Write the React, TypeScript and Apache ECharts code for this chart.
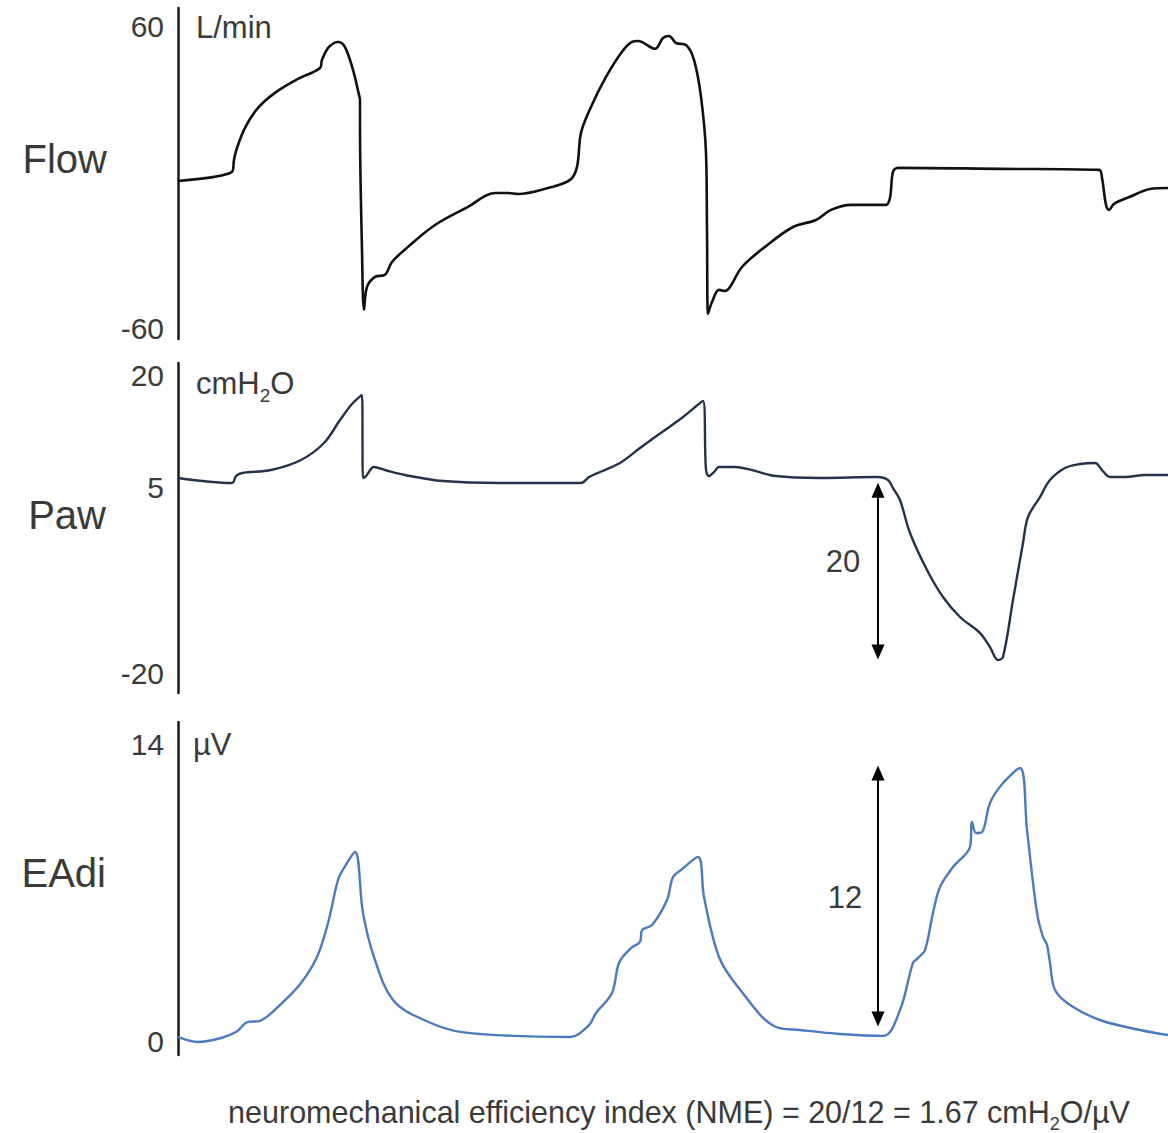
import React, { useEffect, useRef } from "react";
import * as echarts from "echarts";

// ---- Flow (L/min) ----
const flowTime = [0, 0.54, 0.56, 0.59, 0.67, 0.8, 0.97, 1.2, 1.42, 1.44, 1.5, 1.56, 1.6, 1.67, 1.75, 1.81, 1.82, 1.82, 1.84, 1.86, 1.89, 1.97, 2.07, 2.14, 2.3, 2.57, 2.9, 3.17, 3.3, 3.4, 3.7, 3.92, 3.99, 4.03, 4.13, 4.28, 4.44, 4.54, 4.6, 4.77, 4.85, 4.91, 4.98, 5.08, 5.16, 5.23, 5.28, 5.29, 5.3, 5.34, 5.41, 5.47, 5.52, 5.64, 5.87, 6.15, 6.38, 6.53, 6.73, 7.08, 7.12, 7.15, 7.2, 8.22, 9.21, 9.24, 9.28, 9.31, 9.36, 9.52, 9.72, 9.9];
const flowValues = [-1.2, 2.4, 7.2, 11.9, 19.9, 27.8, 33.8, 39.3, 43.7, 46.9, 51.6, 53.6, 54.0, 52.0, 42.9, 33.0, 31.0, 21.1, -28.6, -52.4, -43.3, -39.3, -38.5, -33.4, -27.4, -18.7, -11.5, -6.0, -6.0, -6.4, -4.0, -0.8, 4.4, 17.9, 28.2, 40.1, 50.1, 54.0, 54.4, 51.3, 55.6, 56.4, 53.6, 52.8, 46.9, 32.2, 9.9, -20.7, -54.0, -49.3, -44.5, -44.9, -43.3, -35.4, -27.4, -19.5, -16.7, -12.7, -10.7, -10.7, -7.9, 2.4, 4.0, 3.6, 3.2, 0, -10.7, -12.7, -10.3, -7.5, -4.4, -4.0];

// ---- Paw (cmH2O) ----
const pawTime = [0, 0.54, 0.58, 0.64, 0.93, 1.23, 1.46, 1.62, 1.74, 1.84, 1.85, 1.88, 1.96, 2.07, 2.27, 2.65, 3.22, 4.03, 4.11, 4.22, 4.42, 4.62, 4.82, 5.02, 5.25, 5.28, 5.31, 5.36, 5.41, 5.56, 5.98, 6.42, 6.99, 7.1, 7.15, 7.22, 7.32, 7.49, 7.65, 7.82, 8.02, 8.12, 8.2, 8.25, 8.35, 8.45, 8.5, 8.62, 8.72, 8.87, 9.02, 9.17, 9.24, 9.32, 9.47, 9.67, 9.9];
const pawValues = [6.23, 5.56, 6.49, 6.9, 7.3, 8.64, 10.92, 14.0, 16.15, 17.36, 6.23, 6.49, 7.7, 7.3, 6.63, 5.82, 5.56, 5.56, 6.36, 7.03, 8.24, 10.25, 12.2, 14.1, 16.55, 7.3, 6.49, 7.03, 7.7, 7.7, 6.49, 6.23, 6.36, 5.96, 4.88, 3.28, -1.15, -6.11, -9.73, -12.41, -14.56, -16.44, -18.18, -17.78, -10.13, -2.49, 1.0, 3.68, 5.96, 7.57, 8.1, 8.24, 7.3, 6.36, 6.36, 6.63, 6.63];

// ---- EAdi (µV) ----
const eadiTime = [0, 0.2, 0.43, 0.58, 0.7, 0.81, 1.04, 1.23, 1.39, 1.5, 1.6, 1.66, 1.77, 1.85, 1.96, 2.15, 2.46, 2.84, 3.92, 4.11, 4.18, 4.34, 4.41, 4.53, 4.62, 4.64, 4.74, 4.89, 4.95, 5.03, 5.2, 5.26, 5.41, 5.6, 5.98, 6.22, 6.62, 7.05, 7.22, 7.35, 7.4, 7.47, 7.55, 7.62, 7.75, 7.92, 7.94, 7.98, 8.04, 8.12, 8.25, 8.42, 8.49, 8.59, 8.65, 8.69, 8.72, 8.77, 8.92, 9.22, 9.62, 9.9];
const eadiValues = [0.19, -0.05, 0.14, 0.42, 0.9, 0.94, 1.79, 2.73, 3.96, 5.56, 7.59, 8.16, 8.91, 6.04, 3.96, 1.93, 0.99, 0.42, 0.19, 0.75, 1.32, 2.26, 3.68, 4.38, 4.67, 5.23, 5.47, 6.65, 7.73, 8.06, 8.68, 6.79, 3.96, 2.55, 0.66, 0.52, 0.33, 0.24, 1.46, 3.68, 3.91, 4.29, 6.04, 7.26, 8.2, 9.15, 10.33, 9.81, 9.85, 11.22, 12.16, 12.87, 9.95, 6.04, 4.9, 4.53, 3.68, 2.4, 1.7, 0.99, 0.52, 0.28];

// ---- Axis tick labels ----
const flowTicks = [-60, 60];
const pawTicks = [-20, 5, 20];
const eadiTicks = [0, 14];

// ---- Annotation arrows (time, from value, to value) ----
const pawArrow = { t: 7.0, from: 4.6, to: -17.1, label: "20" };
const eadiArrow = { t: 7.0, from: 12.64, to: 1.04, label: "12" };

const FONT = "'Liberation Sans', Helvetica, Arial, sans-serif";
const TXT = "#3a3a3a";

const zip = (t: number[], v: number[]) => t.map((x, i) => [x, v[i]]);

export default function App() {
  const ref = useRef<HTMLDivElement>(null);
  useEffect(() => {
    if (!ref.current) return;
    const chart = echarts.init(ref.current, undefined, { renderer: "svg" });
    const grids = [
      { left: 178, right: 0, top: 8, height: 331 },
      { left: 178, right: 0, top: 363, height: 330 },
      { left: 178, right: 0, top: 722, height: 333 },
    ];
    const ranges = [
      [-64.0, 67.5],
      [-22.6, 21.65],
      [-0.66, 15.04],
    ];
    const ticks = [flowTicks, pawTicks, eadiTicks];
    const arrowLine = (a: { t: number; from: number; to: number }) => ({
      silent: true,
      symbol: ["triangle", "triangle"],
      symbolSize: [13, 15],
      lineStyle: { color: "#000", width: 2, type: "solid" },
      itemStyle: { color: "#000" },
      label: { show: false },
      data: [[{ coord: [a.t, a.from] }, { coord: [a.t, a.to] }]],
    });
    const sub = (fs: number) => ({
      a: { fontSize: fs, fontFamily: FONT, fill: TXT, lineHeight: fs + 12, verticalAlign: "middle" },
      s: { fontSize: Math.round(fs * 0.6), fontFamily: FONT, fill: TXT, lineHeight: Math.round((fs + 12) / 2), verticalAlign: "bottom" },
    });
    const lineCommon = { type: "line", showSymbol: false, smooth: 0.35 };
    chart.setOption({
      animation: false,
      backgroundColor: "#fff",
      grid: grids,
      xAxis: grids.map((_, i) => ({
        gridIndex: i,
        type: "value",
        min: 0,
        max: 9.9,
        show: false,
      })),
      yAxis: grids.map((_, i) => ({
        gridIndex: i,
        type: "value",
        min: ranges[i][0],
        max: ranges[i][1],
        axisLine: { show: true, lineStyle: { color: "#1a1a1a", width: 2.5 } },
        axisTick: { show: false },
        splitLine: { show: false },
        axisLabel: {
          customValues: ticks[i],
          fontSize: 30,
          fontFamily: FONT,
          color: TXT,
          margin: 14,
        },
      })),
      series: [
        {
          ...lineCommon,
          xAxisIndex: 0,
          yAxisIndex: 0,
          data: zip(flowTime, flowValues),
          lineStyle: { color: "#111", width: 2.6 },
        },
        {
          ...lineCommon,
          xAxisIndex: 1,
          yAxisIndex: 1,
          data: zip(pawTime, pawValues),
          lineStyle: { color: "#24324a", width: 2.4 },
          markLine: arrowLine(pawArrow),
        },
        {
          ...lineCommon,
          xAxisIndex: 2,
          yAxisIndex: 2,
          data: zip(eadiTime, eadiValues),
          lineStyle: { color: "#4a7ac0", width: 2.4 },
          markLine: arrowLine(eadiArrow),
        },
      ],
      graphic: [
        { type: "text", x: 107, y: 159, style: { text: "Flow", fontSize: 40, fontFamily: FONT, fill: TXT, align: "right", verticalAlign: "middle" } },
        { type: "text", x: 106, y: 515, style: { text: "Paw", fontSize: 40, fontFamily: FONT, fill: TXT, align: "right", verticalAlign: "middle" } },
        { type: "text", x: 106, y: 873, style: { text: "EAdi", fontSize: 40, fontFamily: FONT, fill: TXT, align: "right", verticalAlign: "middle" } },
        { type: "text", x: 196, y: 27, style: { text: "L/min", fontSize: 31, fontFamily: FONT, fill: TXT, align: "left", verticalAlign: "middle" } },
        { type: "text", x: 196, y: 383, style: { text: "{a|cmH}{s|2}{a|O}", rich: sub(31), fill: TXT, align: "left", verticalAlign: "middle" } },
        { type: "text", x: 193, y: 744, style: { text: "µV", fontSize: 31, fontFamily: FONT, fill: TXT, align: "left", verticalAlign: "middle" } },
        { type: "text", x: 843, y: 561, style: { text: pawArrow.label, fontSize: 31, fontFamily: FONT, fill: TXT, align: "center", verticalAlign: "middle" } },
        { type: "text", x: 845, y: 897, style: { text: eadiArrow.label, fontSize: 31, fontFamily: FONT, fill: TXT, align: "center", verticalAlign: "middle" } },
        {
          type: "text",
          x: 679,
          y: 1112,
          style: {
            text: "{a|neuromechanical efficiency index (NME) = 20/12 = 1.67 cmH}{s|2}{a|O/µV}",
            rich: sub(30.5),
            fill: TXT,
            align: "center",
            verticalAlign: "middle",
          },
        },
      ],
    });
    return () => chart.dispose();
  }, []);
  return (
    <div
      ref={ref}
      style={{ position: "fixed", left: 0, top: 0, width: 1168, height: 1133, background: "#fff" }}
    />
  );
}
